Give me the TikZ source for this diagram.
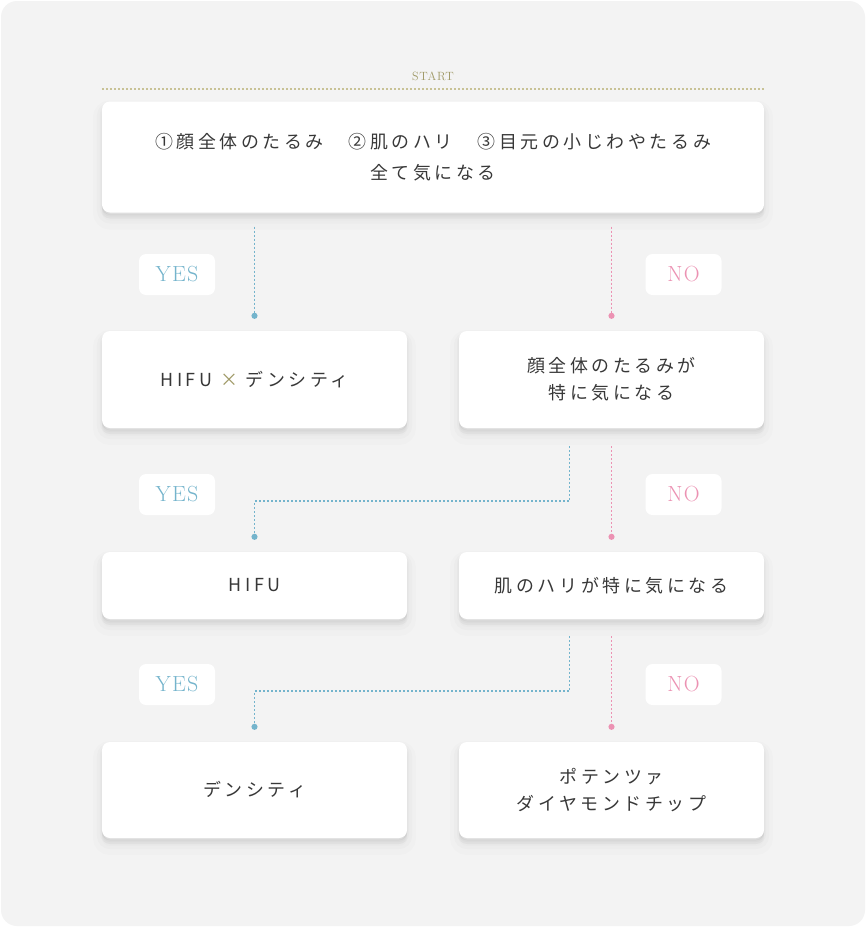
\documentclass[tikz,border=0pt]{standalone}
\usepackage{fontspec}
\newfontfamily\jpfont[LetterSpace=20]{Noto Sans CJK JP}
\newfontfamily\tagfont[LetterSpace=6]{Latin Modern Roman}
\usetikzlibrary{arrows.meta}
\definecolor{bgcol}{HTML}{F3F3F3}
\definecolor{txtcol}{HTML}{383838}
\definecolor{yescol}{HTML}{74B4CC}
\definecolor{nocol}{HTML}{EC92B3}
\definecolor{olive}{HTML}{9F9966}
\definecolor{dotcol}{HTML}{C8C296}

\begin{document}
\begin{tikzpicture}[x=1bp, y=-1bp,
    card/.style={rectangle, fill=white, rounded corners=8bp, text=txtcol, align=center,
        font=\jpfont\fontsize{18}{27}\selectfont,
        preaction={fill=black, draw=black, line width=18bp, opacity=0.01, transform canvas={yshift=-8bp}},
        preaction={fill=black, draw=black, line width=10bp, opacity=0.015, transform canvas={yshift=-6bp}},
        preaction={fill=black, draw=black, line width=4bp, opacity=0.02, transform canvas={yshift=-4bp}},
        preaction={fill=black, draw=black, line width=1bp, opacity=0.02, transform canvas={yshift=-2bp}}},
    half/.style={card, minimum width=305bp},
    tag/.style={rectangle, fill=white, rounded corners=7bp, minimum width=76bp, minimum height=41bp,
        font=\tagfont\fontsize{22}{22}\selectfont},
    link/.style={line width=1.8bp, dash pattern=on 1.8bp off 2.2bp, -{Circle[length=6bp]}}]

    % background
    \useasboundingbox (0,0) rectangle (866,927);
    \fill[white] (0,0) rectangle (866,927);
    \fill[bgcol, rounded corners=16bp] (1,1) rectangle (865,926);

    % cards
    \node[card, minimum width=662bp, minimum height=111bp, font=\jpfont\fontsize{18}{31}\selectfont] (q0) at (433,157)
        {①顔全体のたるみ　②肌のハリ　③目元の小じわやたるみ\\全て気になる};
    \node[half, minimum height=97bp] (a1) at (254.5,379.5) {HIFU {\color{olive}×} デンシティ};
    \node[half, minimum height=97bp] (q1) at (611.5,379.5) {顔全体のたるみが\\特に気になる};
    \node[half, minimum height=67bp] (a2) at (254.5,585.5) {HIFU};
    \node[half, minimum height=67bp] (q2) at (611.5,585.5) {肌のハリが特に気になる};
    \node[half, minimum height=96bp] (a3) at (254.5,790) {デンシティ};
    \node[half, minimum height=96bp] (a4) at (611.5,790) {ポテンツァ\\ダイヤモンドチップ};

    % start line
    \node[text=olive, font=\tagfont\fontsize{12}{12}\selectfont] (st) at (433,76) {START};
    \draw[dotcol, line width=1.8bp, dash pattern=on 1.8bp off 2.2bp] ([yshift=12bp]q0.north west) -- ([yshift=12bp]q0.north east);

    % yes / no tags
    \foreach \r/\y in {1/274.5, 2/494.5, 3/684.5} {
        \node[tag, text=yescol] (yes\r) at (177,\y) {YES};
        \node[tag, text=nocol] (no\r) at (683.5,\y) {NO};
    }

    % connectors
    \draw[link, yescol] ([yshift=-14bp]q0.south -| a1) -- ([yshift=12bp]a1.north);
    \draw[link, nocol] ([yshift=-14bp]q0.south -| q1) -- ([yshift=12bp]q1.north);
    \draw[link, yescol] ([xshift=-42bp, yshift=-18bp]q1.south) -- ++(0,55) -| ([yshift=12bp]a2.north);
    \draw[link, nocol] ([yshift=-18bp]q1.south) -- ([yshift=12bp]q2.north);
    \draw[link, yescol] ([xshift=-42bp, yshift=-17bp]q2.south) -- ++(0,55) -| ([yshift=12bp]a3.north);
    \draw[link, nocol] ([yshift=-17bp]q2.south) -- ([yshift=12bp]a4.north);
\end{tikzpicture}
\end{document}
